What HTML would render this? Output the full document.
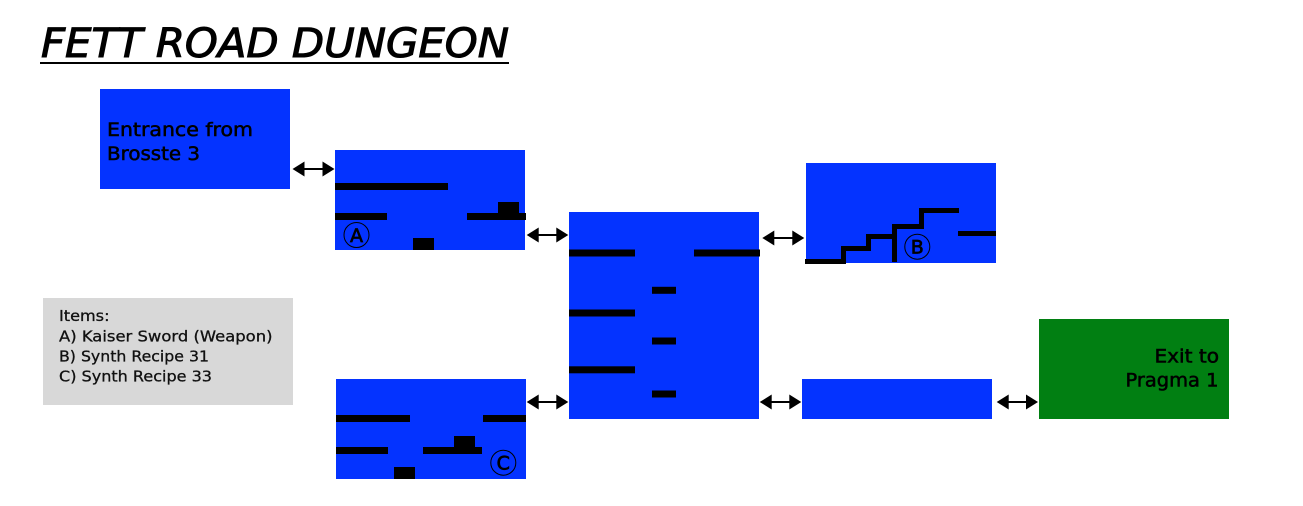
<!DOCTYPE html>
<html lang="en">
<head>
<meta charset="utf-8">
<title>Fett Road Dungeon</title>
<style>
html,body{margin:0;padding:0;background:#fff;width:1303px;height:506px;overflow:hidden}
svg{display:block;position:absolute;left:0;top:0}
text{font-family:"DejaVu Sans","Liberation Sans",sans-serif;fill:#000}
.title{font-size:40px;font-style:italic;stroke:#000;stroke-width:1.1px}
.lbl{font-size:19px;stroke:#000;stroke-width:.55px}
.item{font-size:15px;fill:#111;stroke:#111;stroke-width:.3px}
.mark{font-size:19px;text-anchor:middle;stroke:#000;stroke-width:.7px}
.blue{fill:#0433ff}
</style>
</head>
<body>
<svg width="1303" height="506" viewBox="0 0 1303 506">
  <rect width="1303" height="506" fill="#fff"/>

  <g>
    <text class="title" x="41" y="57" textLength="468" lengthAdjust="spacingAndGlyphs">FETT ROAD DUNGEON</text>
    <rect x="40" y="62" width="469" height="2" fill="#000"/>
  </g>

  <g>
    <rect class="blue" x="100" y="89" width="190" height="100"/>
    <text class="lbl" x="107" y="136" textLength="146" lengthAdjust="spacingAndGlyphs">Entrance from</text>
    <text class="lbl" x="107" y="160" textLength="93" lengthAdjust="spacingAndGlyphs">Brosste 3</text>
  </g>

  <g>
    <rect class="blue" x="335" y="150" width="190" height="100"/>
    <rect x="335" y="183" width="113" height="7"/>
    <rect x="335" y="213" width="52" height="7"/>
    <rect x="467" y="213" width="59" height="7"/>
    <rect x="498" y="202" width="21" height="11"/>
    <rect x="413" y="238" width="21" height="12"/>
    <circle cx="356.5" cy="235" r="12.5" fill="none" stroke="#000" stroke-width="1"/>
    <text class="mark" x="356.5" y="242">A</text>
  </g>

  <g>
    <rect class="blue" x="569" y="212" width="190" height="207"/>
    <rect x="569" y="249.5" width="66" height="7"/>
    <rect x="694" y="249.5" width="66" height="7"/>
    <rect x="569" y="309.5" width="66" height="7"/>
    <rect x="569" y="366.3" width="66" height="7"/>
    <rect x="652" y="286.8" width="24" height="7"/>
    <rect x="652" y="337.5" width="24" height="7"/>
    <rect x="652" y="390.5" width="24" height="7"/>
  </g>

  <g>
    <rect class="blue" x="806" y="163" width="190" height="100"/>
    <path d="M805 261.5H843.5V248.5H868.5V236.5H894.5V226.5H921.5V210.5H959" fill="none" stroke="#000" stroke-width="5"/>
    <rect x="892" y="224" width="5" height="38"/>
    <rect x="958" y="231" width="38" height="5"/>
    <circle cx="917.3" cy="246.7" r="12.5" fill="none" stroke="#000" stroke-width="1"/>
    <text class="mark" x="917.3" y="253.5">B</text>
  </g>

  <g>
    <rect class="blue" x="336" y="379" width="190" height="100"/>
    <rect x="336" y="415" width="74" height="7"/>
    <rect x="483" y="415" width="43" height="7"/>
    <rect x="336" y="447" width="52" height="7"/>
    <rect x="423" y="447" width="59" height="7"/>
    <rect x="454" y="436" width="21" height="11"/>
    <rect x="394" y="467" width="21" height="12"/>
    <circle cx="503.3" cy="462.7" r="12.5" fill="none" stroke="#000" stroke-width="1"/>
    <text class="mark" x="503.3" y="469.5">C</text>
  </g>

  <rect class="blue" x="802" y="379" width="190" height="40"/>

  <g>
    <rect x="1039" y="319" width="190" height="100" fill="#017f12"/>
    <text class="lbl" x="1154.5" y="362.7" textLength="64.5" lengthAdjust="spacingAndGlyphs">Exit to</text>
    <text class="lbl" x="1125.5" y="386.7" textLength="93" lengthAdjust="spacingAndGlyphs">Pragma 1</text>
  </g>

  <g>
    <rect x="43" y="298" width="250" height="107" fill="#d8d8d8"/>
    <text class="item" x="59" y="321" textLength="50.5" lengthAdjust="spacingAndGlyphs">Items:</text>
    <text class="item" x="59" y="341.3" textLength="213.5" lengthAdjust="spacingAndGlyphs">A) Kaiser Sword (Weapon)</text>
    <text class="item" x="59" y="361.3" textLength="150" lengthAdjust="spacingAndGlyphs">B) Synth Recipe 31</text>
    <text class="item" x="59" y="381.3" textLength="153" lengthAdjust="spacingAndGlyphs">C) Synth Recipe 33</text>
  </g>

  <g fill="#000">
    <path d="M292.5 169L304.5 161.5V168H322.5V161.500L334.5 169L322.5 176.500V170H304.5V176.500Z"/>
    <path d="M526.7 235L538.7 227.500V234H556.300V227.500L568.300 235L556.300 242.500V236H538.700V242.500Z"/>
    <path d="M762.300 238L774.300 230.500V237H792.300V230.500L804.300 238L792.300 245.500V239H774.300V245.500Z"/>
    <path d="M526.700 402L538.700 394.500V401H556.300V394.500L568.300 402L556.300 409.500V403H538.700V409.500Z"/>
    <path d="M759.700 402L771.700 394.500V401H789.300V394.500L801.300 402L789.300 409.500V403H771.700V409.500Z"/>
    <path d="M996.700 402L1008.700 394.500V401H1026V394.500L1038 402L1026 409.500V403H1008.700V409.500Z"/>
  </g>
</svg>
</body>
</html>
